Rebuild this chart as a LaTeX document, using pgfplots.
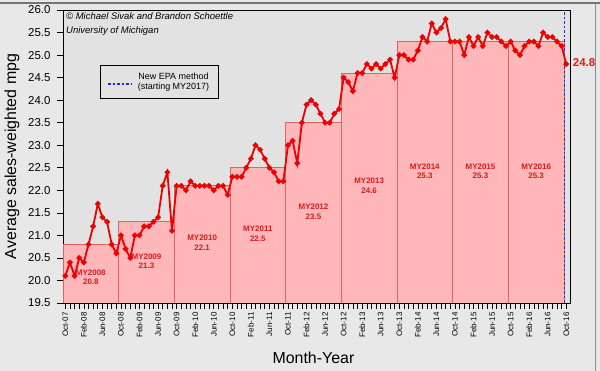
\documentclass[border=0pt]{standalone}
\usepackage{fontspec}
\setmainfont{Liberation Sans}
\usepackage{pgfplots}
\usepackage{pgfplotstable}
\pgfplotsset{compat=1.18}
\definecolor{outerbg}{RGB}{232,232,232}
\definecolor{innerbg}{RGB}{226,226,226}
\definecolor{barfill}{RGB}{255,183,186}
\definecolor{baredge}{RGB}{222,100,100}
\definecolor{linered}{RGB}{238,0,0}
\definecolor{labred}{RGB}{225,25,25}
\definecolor{epablue}{RGB}{40,40,210}

\pgfplotstableread{
i v
0 20.1
1 20.4
2 20.1
3 20.5
4 20.4
5 20.8
6 21.2
7 21.7
8 21.4
9 21.3
10 20.8
11 20.6
12 21.0
13 20.7
14 20.5
15 21.0
16 21.0
17 21.2
18 21.2
19 21.3
20 21.4
21 22.1
22 22.4
23 21.1
24 22.1
25 22.1
26 22.0
27 22.2
28 22.1
29 22.1
30 22.1
31 22.1
32 22.0
33 22.1
34 22.1
35 21.9
36 22.3
37 22.3
38 22.3
39 22.5
40 22.7
41 23.0
42 22.9
43 22.7
44 22.5
45 22.4
46 22.2
47 22.2
48 23.0
49 23.1
50 22.6
51 23.5
52 23.9
53 24.0
54 23.9
55 23.7
56 23.5
57 23.5
58 23.7
59 23.8
60 24.5
61 24.4
62 24.2
63 24.6
64 24.6
65 24.8
66 24.7
67 24.8
68 24.7
69 24.8
70 24.9
71 24.5
72 25.0
73 25.0
74 24.9
75 24.9
76 25.1
77 25.4
78 25.3
79 25.7
80 25.5
81 25.6
82 25.8
83 25.3
84 25.3
85 25.3
86 25.0
87 25.4
88 25.2
89 25.4
90 25.2
91 25.5
92 25.4
93 25.4
94 25.3
95 25.2
96 25.3
97 25.1
98 25.0
99 25.2
100 25.3
101 25.3
102 25.2
103 25.5
104 25.4
105 25.4
106 25.3
107 25.2
108 24.8
}\mpg

\pgfplotstableread{
x h
-0.5 20.8
11.5 21.3
23.5 22.1
35.5 22.5
47.5 23.5
59.5 24.6
71.5 25.3
83.5 25.3
95.5 25.3
107.5 25.3
}\bars

\begin{document}
\begin{tikzpicture}
\useasboundingbox (0,0) rectangle (600bp,371bp);
\fill[outerbg] (0,0) rectangle (600bp,371bp);
\draw[black!55, line width=1.5bp] (0,368bp) -- (600bp,368bp);
\draw[black!45, line width=1bp] (595bp,0) -- (595bp,368bp);
\begin{axis}[
  at={(63bp,68bp)}, anchor=south west,
  scale only axis, width=507bp, height=293bp,
  xmin=-0.5, xmax=108.8, ymin=19.5, ymax=26,
  axis background/.style={fill=innerbg},
  axis line style={black, line width=0.9bp},
  clip mode=individual,
  tick align=outside, tick pos=left,
  major tick length=6bp, minor tick length=6bp,
  every tick/.style={black, line width=0.6bp},
  ytick={19.5,20,20.5,21,21.5,22,22.5,23,23.5,24,24.5,25,25.5,26},
  yticklabel style={/pgf/number format/fixed, /pgf/number format/fixed zerofill, /pgf/number format/precision=1, font=\fontsize{11.5}{12}\selectfont, xshift=-3bp},
  xtick={0,4,...,108},
  minor xtick={0,...,108},
  xticklabels={Oct-07,Feb-08,Jun-08,Oct-08,Feb-09,Jun-09,Oct-09,Feb-10,Jun-10,Oct-10,Feb-11,Jun-11,Oct-11,Feb-12,Jun-12,Oct-12,Feb-13,Jun-13,Oct-13,Feb-14,Jun-14,Oct-14,Feb-15,Jun-15,Oct-15,Feb-16,Jun-16,Oct-16},
  xticklabel style={rotate=90, anchor=east, font=\fontsize{8}{9}\selectfont},
  /pgf/number format/assume math mode=true,
  xlabel={Month-Year}, ylabel={Average sales-weighted mpg},
  xlabel style={font=\fontsize{16}{18}\selectfont, at={(axis description cs:0.494,-0.188)}, anchor=center},
  ylabel style={font=\fontsize{16}{18}\selectfont, at={(axis description cs:-0.1006,0.5)}, anchor=center},
  legend style={at={(0.073,0.812)}, anchor=north west, draw=black, line width=0.9bp, fill=innerbg, font=\fontsize{9}{11}\selectfont, cells={align=center}, inner xsep=7bp, inner ysep=5bp, column sep=4bp},
  legend image code/.code={\draw[#1, draw=epablue, line width=1.4bp, yshift=-2bp] (0bp,0bp) -- (23bp,0bp);},
]
\addplot[ybar interval, fill=barfill, draw=baredge, line width=0.8bp, forget plot] table[x=x,y=h] {\bars};
\addplot[epablue, line width=1bp, dash pattern=on 2.5bp off 2bp] coordinates {(107.6,19.5) (107.6,26)};
\addlegendentry{New EPA method\\(starting MY2017)}
\addplot[linered, line width=1.8bp, mark=*, mark size=1.8bp, mark options={solid, fill=linered}, forget plot] table[x=i,y=v] {\mpg};

\node[labred, font=\bfseries\fontsize{8}{9.5}\selectfont, align=center] at (axis cs:5.5,20.07) {MY2008\\20.8};
\node[labred, font=\bfseries\fontsize{8}{9.5}\selectfont, align=center] at (axis cs:17.5,20.43) {MY2009\\21.3};
\node[labred, font=\bfseries\fontsize{8}{9.5}\selectfont, align=center] at (axis cs:29.5,20.84) {MY2010\\22.1};
\node[labred, font=\bfseries\fontsize{8}{9.5}\selectfont, align=center] at (axis cs:41.5,21.04) {MY2011\\22.5};
\node[labred, font=\bfseries\fontsize{8}{9.5}\selectfont, align=center] at (axis cs:53.5,21.52) {MY2012\\23.5};
\node[labred, font=\bfseries\fontsize{8}{9.5}\selectfont, align=center] at (axis cs:65.5,22.10) {MY2013\\24.6};
\node[labred, font=\bfseries\fontsize{8}{9.5}\selectfont, align=center] at (axis cs:77.5,22.42) {MY2014\\25.3};
\node[labred, font=\bfseries\fontsize{8}{9.5}\selectfont, align=center] at (axis cs:89.5,22.42) {MY2015\\25.3};
\node[labred, font=\bfseries\fontsize{8}{9.5}\selectfont, align=center] at (axis cs:101.5,22.42) {MY2016\\25.3};
\node[labred, font=\bfseries\fontsize{11.5}{12}\selectfont, anchor=west, inner sep=0] at (axis cs:109.4,24.83) {24.8};
\node[anchor=base west, inner sep=0, font=\itshape\fontsize{9.5}{10}\selectfont] at (axis cs:0.15,25.78) {© Michael Sivak and Brandon Schoettle};
\node[anchor=base west, inner sep=0, font=\itshape\fontsize{9.5}{10}\selectfont] at (axis cs:0.15,25.48) {University of Michigan};
\end{axis}
\end{tikzpicture}
\end{document}
